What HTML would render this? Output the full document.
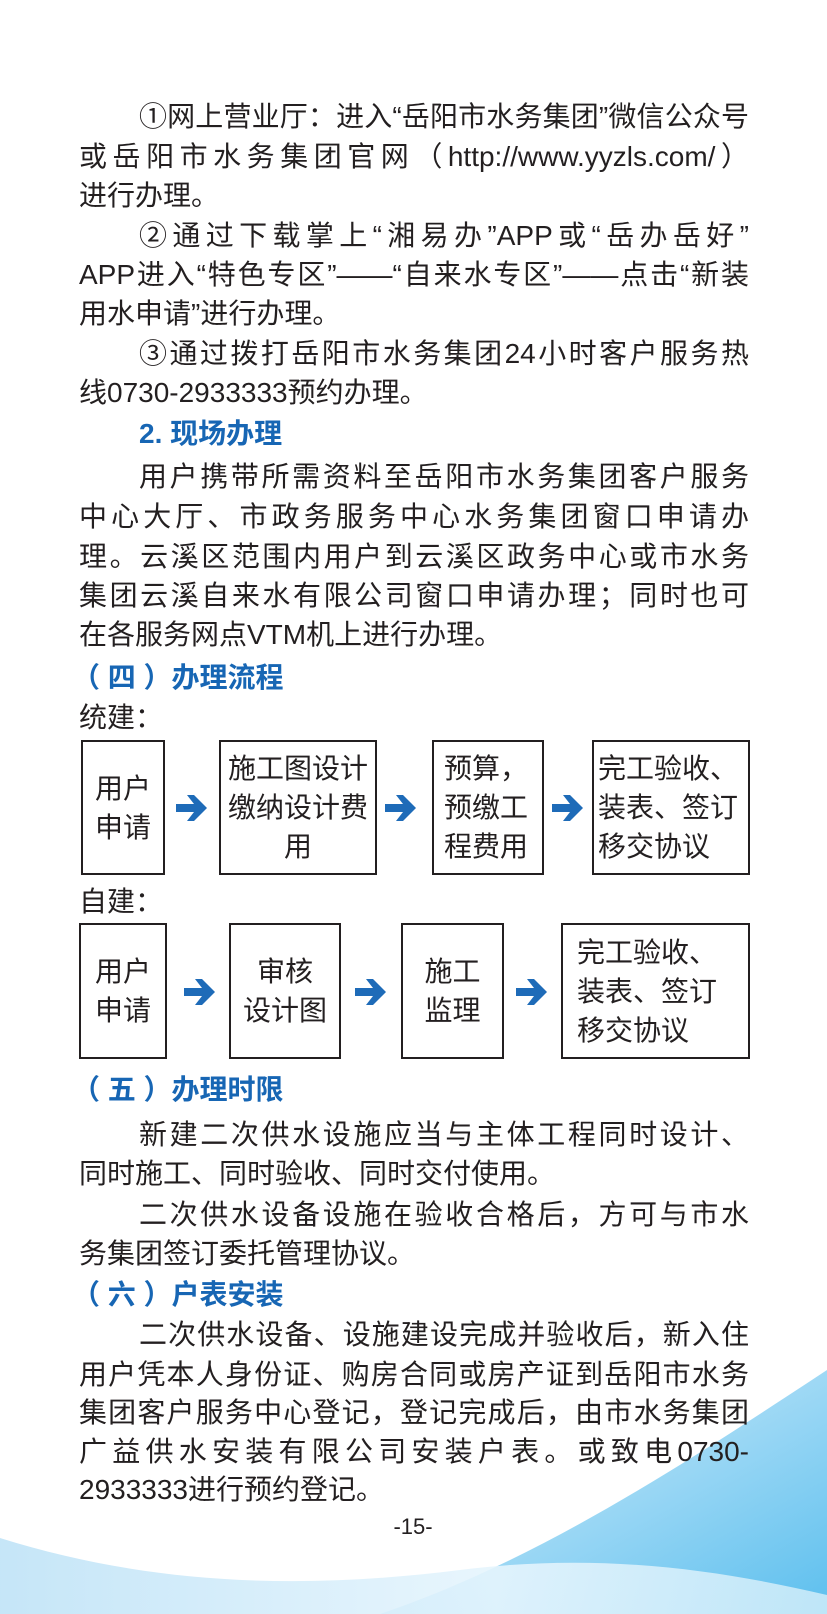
<!DOCTYPE html>
<html><head><meta charset="utf-8"><style>
body{margin:0;width:827px;height:1614px;position:relative;overflow:hidden;background:#fff;font-family:"Liberation Sans","Noto Sans CJK SC",sans-serif;color:#231f20}
.l{position:absolute;left:79px;width:670px;font-size:28px;line-height:40px;height:40px;white-space:nowrap}
.j{text-align:justify;text-align-last:justify;white-space:normal}
.i{left:139px;width:610px}
.h{position:absolute;font-size:28px;font-weight:bold;color:#1766b4;line-height:40px;white-space:nowrap}
.b{position:absolute;border:2.5px solid #231f20;box-sizing:border-box;font-size:28px;line-height:39px;display:flex;align-items:center;justify-content:center;text-align:center;color:#231f20}
</style></head><body>
<svg style="position:absolute;left:0;top:0" width="827" height="1614">
<defs>
<linearGradient id="g1" x1="0" y1="0" x2="1" y2="1"><stop offset="0" stop-color="#e3f3fc"/><stop offset="1" stop-color="#5cbfee"/></linearGradient>
<linearGradient id="g2" x1="0" y1="0" x2="1" y2="0"><stop offset="0" stop-color="#bfe3f7"/><stop offset="0.6" stop-color="#e6f5fd"/><stop offset="1" stop-color="#c9eaf9"/></linearGradient>
</defs>
<path d="M827 1370 C690 1460 540 1560 380 1614 L827 1614 Z" fill="url(#g1)"/>
<path d="M0 1538 C150 1585 300 1590 460 1570 C600 1552 720 1570 827 1595 L827 1614 L0 1614 Z" fill="url(#g2)" opacity="0.9"/>
</svg>
<div class="l j i" style="top:97px">①网上营业厅：进入“岳阳市水务集团”微信公众号</div>
<div class="l j" style="top:137px">或岳阳市水务集团官网（http://www.yyzls.com/）</div>
<div class="l" style="top:176px">进行办理。</div>
<div class="l j i" style="top:216px">②通过下载掌上“湘易办”APP或“岳办岳好”</div>
<div class="l j" style="top:255px">APP进入“特色专区”——“自来水专区”——点击“新装</div>
<div class="l" style="top:294px">用水申请”进行办理。</div>
<div class="l j i" style="top:334px">③通过拨打岳阳市水务集团24小时客户服务热</div>
<div class="l" style="top:373px">线0730-2933333预约办理。</div>
<div class="h" style="left:139px;top:414px">2. 现场办理</div>
<div class="l j i" style="top:457px">用户携带所需资料至岳阳市水务集团客户服务</div>
<div class="l j" style="top:497px">中心大厅、市政务服务中心水务集团窗口申请办</div>
<div class="l j" style="top:537px">理。云溪区范围内用户到云溪区政务中心或市水务</div>
<div class="l j" style="top:576px">集团云溪自来水有限公司窗口申请办理；同时也可</div>
<div class="l" style="top:615px">在各服务网点VTM机上进行办理。</div>
<div class="h" style="left:72px;top:658px">（ 四 ）办理流程</div>
<div class="l" style="top:698px">统建：</div>
<div class="b" style="left:81px;top:740px;width:84px;height:135px">用户<br>申请</div>
<div class="b" style="left:219px;top:740px;width:158px;height:135px">施工图设计<br>缴纳设计费<br>用</div>
<div class="b" style="left:432px;top:740px;width:112px;height:135px;justify-content:flex-start;text-align:left;padding-left:10px">预算，<br>预缴工<br>程费用</div>
<div class="b" style="left:592px;top:740px;width:158px;height:135px;justify-content:flex-start;text-align:left;padding-left:4px">完工验收、<br>装表、签订<br>移交协议</div>
<div class="l" style="top:882px">自建：</div>
<div class="b" style="left:79px;top:923px;width:88px;height:136px">用户<br>申请</div>
<div class="b" style="left:229px;top:923px;width:112px;height:136px">审核<br>设计图</div>
<div class="b" style="left:401px;top:923px;width:103px;height:136px">施工<br>监理</div>
<div class="b" style="left:561px;top:923px;width:189px;height:136px;justify-content:flex-start;text-align:left;padding-left:14px">完工验收、<br>装表、签订<br>移交协议</div>
<svg style="position:absolute;left:0;top:0" width="827" height="1614">
<g fill="#1e6bb8">
<path id="ar" d="M0 -4 H18 L11 -13 H18 L31 0 L18 13 H11 L18 4 H0 Z" transform="translate(176,808)"/>
<use href="#ar" transform="translate(209,0)"/>
<use href="#ar" transform="translate(376,0)"/>
<use href="#ar" transform="translate(8,184)"/>
<use href="#ar" transform="translate(179,184)"/>
<use href="#ar" transform="translate(340,184)"/>
</g></svg>
<div class="h" style="left:72px;top:1070px">（ 五 ）办理时限</div>
<div class="l j i" style="top:1115px">新建二次供水设施应当与主体工程同时设计、</div>
<div class="l" style="top:1154px">同时施工、同时验收、同时交付使用。</div>
<div class="l j i" style="top:1195px">二次供水设备设施在验收合格后，方可与市水</div>
<div class="l" style="top:1234px">务集团签订委托管理协议。</div>
<div class="h" style="left:72px;top:1275px">（ 六 ）户表安装</div>
<div class="l j i" style="top:1315px">二次供水设备、设施建设完成并验收后，新入住</div>
<div class="l j" style="top:1355px">用户凭本人身份证、购房合同或房产证到岳阳市水务</div>
<div class="l j" style="top:1393px">集团客户服务中心登记，登记完成后，由市水务集团</div>
<div class="l j" style="top:1432px">广益供水安装有限公司安装户表。或致电0730-</div>
<div class="l" style="top:1470px">2933333进行预约登记。</div>
<div style="position:absolute;left:383px;top:1512px;width:60px;text-align:center;font-size:22px;line-height:30px">-15-</div>
</body></html>
